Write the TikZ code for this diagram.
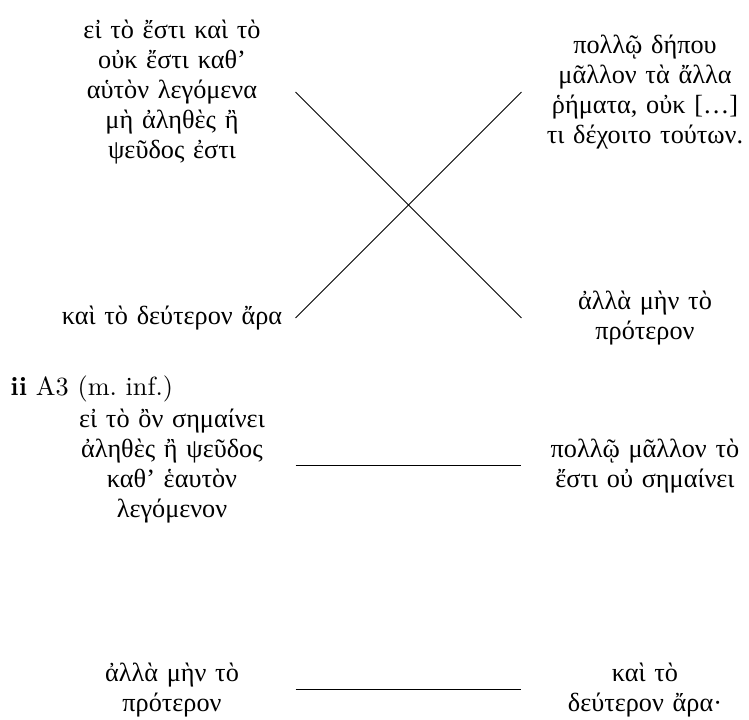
\documentclass[tikz,border=0pt]{standalone}
\usepackage{fontspec}
\newfontfamily\greekfont{Liberation Serif}
\begin{document}
\begin{tikzpicture}[x=0.4pt,y=-0.4pt,
  gtext/.style={font=\greekfont\fontsize{10.5pt}{12pt}\selectfont, align=center, inner sep=0pt, text width=98.4pt},
  link/.style={line width=0.4pt, black}]
\useasboundingbox (0,0) rectangle (749,720);
\node[gtext] (tl) at (172,92) {εἰ τὸ ἔστι καὶ τὸ\\ οὐκ ἔστι καθ’\\ αὑτὸν λεγόμενα\\ μὴ ἀληθὲς ἢ\\ ψεῦδος ἐστι};
\node[gtext] (tr) at (645,92) {πολλῷ δήπου\\ μᾶλλον τὰ ἄλλα\\ ῥήματα, οὐκ [\ldots]\\ τι δέχοιτο τούτων.};
\node[gtext] (bla) at (172,318) {καὶ τὸ δεύτερον ἄρα};
\node[gtext] (bra) at (645,318) {ἀλλὰ μὴν τὸ\\ πρότερον};
\node[anchor=west, inner sep=0pt, font=\fontsize{10.5pt}{12pt}\selectfont] (lab) at (10,389) {\textbf{ii} A3 (m.\ inf.)};
\node[gtext] (ml) at (172,466) {εἰ τὸ ὂν σημαίνει\\ ἀληθὲς ἢ ψεῦδος\\ καθ’ ἑαυτὸν\\ λεγόμενον};
\node[gtext] (mr) at (645,466) {πολλῷ μᾶλλον τὸ\\ ἔστι οὐ σημαίνει};
\node[gtext] (blb) at (172,690) {ἀλλὰ μὴν τὸ\\ πρότερον};
\node[gtext] (brb) at (645,690) {καὶ τὸ\\ δεύτερον ἄρα·};
\draw[link] (tl.east) -- (bra.west);
\draw[link] (bla.east) -- (tr.west);
\draw[link] (ml.east) -- (mr.west);
\draw[link] (blb.east) -- (brb.west);
\end{tikzpicture}
\end{document}
